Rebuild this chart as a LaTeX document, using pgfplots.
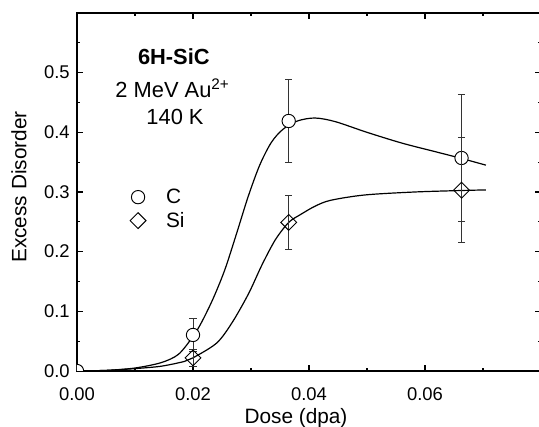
\documentclass[border=0pt]{standalone}
\usepackage{fontspec}
\setmainfont{Liberation Sans}
\usepackage{pgfplots}
\pgfplotsset{compat=1.18}
\begin{document}
\begin{tikzpicture}
\begin{axis}[
    at={(0,0)}, anchor=south west,
    scale only axis,
    width=348pt, height=268.5pt,
    xmin=0, xmax=0.08, ymin=0, ymax=0.6,
    xtick={0,0.02,0.04,0.06},
    minor xtick={0.01,0.03,0.05,0.07},
    ytick={0,0.1,0.2,0.3,0.4,0.5},
    minor ytick={0.05,0.15,0.25,0.35,0.45,0.55},
    tick align=inside,
    major tick length=4.5pt, minor tick length=2.6pt,
    every tick/.style={black, line width=0.8pt},
    axis line style={black, line width=1pt},
    scaled x ticks=false, scaled y ticks=false,
    /pgf/number format/assume math mode=true,
    x tick label style={/pgf/number format/fixed, /pgf/number format/fixed zerofill, /pgf/number format/precision=2, yshift=-9pt},
    y tick label style={/pgf/number format/fixed, /pgf/number format/fixed zerofill, /pgf/number format/precision=1, xshift=-2pt},
    tick label style={font=\fontsize{13.8}{16}\selectfont},
    label style={font=\fontsize{15.6}{18}\selectfont},
    xlabel={Dose (dpa)},
    ylabel={Excess Disorder},
    xlabel style={at={(axis description cs:0.472,-0.147)}, anchor=base},
    ylabel style={at={(axis description cs:-0.125,0.514)}, anchor=center},
    clip marker paths=true,
    legend style={draw=none, fill=none, at={(axis description cs:0.114,0.4525)}, anchor=west,
        font=\fontsize{15.6}{18}\selectfont, row sep=1pt, inner sep=0pt,
        /tikz/every odd column/.append style={column sep=13pt}},
    legend cell align=left,
]

% fitted curves
\addplot[black, line width=0.9pt, smooth, forget plot] coordinates {
    (0,0) (0.005,0.001) (0.010,0.005) (0.0145,0.014) (0.0175,0.028)
    (0.0200,0.058) (0.0215,0.082) (0.0235,0.122) (0.0255,0.170)
    (0.0275,0.230) (0.0295,0.292) (0.0315,0.345) (0.0335,0.383)
    (0.0355,0.405) (0.0380,0.419) (0.0410,0.424) (0.0445,0.418)
    (0.0500,0.400) (0.0560,0.382) (0.0620,0.367) (0.0660,0.357)
    (0.0705,0.345)
};
\addplot[black, line width=0.9pt, smooth, forget plot] coordinates {
    (0,0) (0.005,0.001) (0.010,0.004) (0.0145,0.008) (0.0185,0.016)
    (0.0200,0.022) (0.0241,0.047) (0.0268,0.082) (0.0296,0.130)
    (0.0319,0.178) (0.0342,0.220) (0.0365,0.249) (0.0385,0.262)
    (0.0410,0.276) (0.0437,0.286) (0.0496,0.295) (0.0582,0.300)
    (0.0663,0.3025) (0.0705,0.3035)
};

% data: C
\addplot[only marks, mark=*, mark size=5pt,
    mark options={fill=white, draw=black, line width=0.7pt},
    error bars/.cd, y dir=both, y explicit,
    error bar style={line width=0.6pt, black!80},
    error mark options={rotate=90, mark size=2.7pt, line width=0.6pt, black!80}]
    coordinates {
    (0.0200,0.0604) +- (0,0.028)
    (0.0365,0.419) +- (0,0.070)
    (0.0663,0.357) +- (0,0.107)
};
% data: Si
\addplot[only marks, mark=square, mark size=4.2pt,
    mark options={rotate=45, fill=white, draw=black, line width=0.7pt},
    error bars/.cd, y dir=both, y explicit,
    error bar style={line width=0.6pt, black!80},
    error mark options={rotate=90, mark size=2.7pt, line width=0.6pt, black!80}]
    coordinates {
    (0.0200,0.022) +- (0,0.015)
    (0.0365,0.249) +- (0,0.045)
    (0.0663,0.303) +- (0,0.088)
};
% origin points
\addplot[only marks, mark=*, mark size=5pt, forget plot,
    mark options={fill=white, draw=black, line width=0.7pt}] coordinates {(0,0)};
\legend{C, Si}

\node[anchor=base, font=\fontsize{16.4}{19}\selectfont\bfseries] at (axis cs:0.0167,0.513) {6H-SiC};
\node[anchor=base, font=\fontsize{16.4}{19}\selectfont] at (axis cs:0.01647,0.458) {2 MeV Au\textsuperscript{2+}};
\node[anchor=base, font=\fontsize{16.4}{19}\selectfont] at (axis cs:0.0169,0.4128) {140 K};
\end{axis}
\pgfresetboundingbox
\useasboundingbox (-57.75pt,-42pt) rectangle (346.5pt,278.25pt);
\end{tikzpicture}
\end{document}
